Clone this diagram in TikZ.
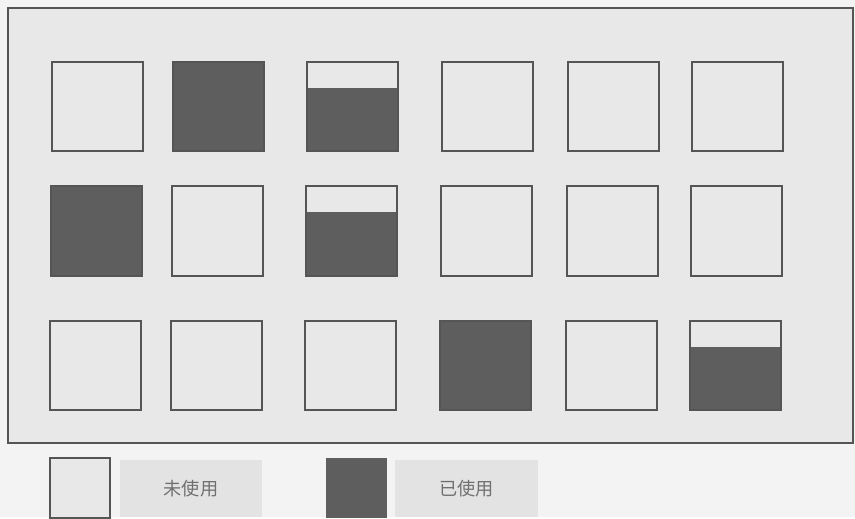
\documentclass[tikz,border=0pt]{standalone}
\usepackage{fontspec}
\newfontfamily\cjk{Noto Sans CJK SC}
\usetikzlibrary{positioning}

\definecolor{pagegray}{HTML}{F3F3F3}
\definecolor{panelgray}{HTML}{E8E8E8}
\definecolor{usedgray}{HTML}{5E5E5E}
\definecolor{linegray}{HTML}{555555}
\definecolor{labelgray}{HTML}{E3E3E3}
\definecolor{textgray}{HTML}{707070}

\tikzset{
  slot/.style={draw=linegray,line width=0.9pt},
  keylabel/.style={fill=labelgray,minimum width=4.26cm,minimum height=1.71cm,
    inner sep=0pt,text=textgray,font=\cjk\fontsize{15.5}{18}\selectfont}
}

\begin{document}
\begin{tikzpicture}[x=0.03cm,y=-0.03cm]
  \fill[pagegray] (0,0) rectangle (855,517);
  \draw[linegray,line width=0.9pt,fill=panelgray] (8,8) rectangle (853,443);

  % used memory
  \fill[usedgray] (173,62) rectangle (264,151);
  \fill[usedgray] (307,88) rectangle (398,151);
  \fill[usedgray] (51,186) rectangle (142,276);
  \fill[usedgray] (306,212) rectangle (397,276);
  \fill[usedgray] (440,321) rectangle (531,410);
  \fill[usedgray] (690,347) rectangle (781,410);

  % grid of blocks
  \foreach \x in {52,173,307,442,568,692}
    \draw[slot] (\x,62) rectangle ++(91,89);
  \foreach \x in {51,172,306,441,567,691}
    \draw[slot] (\x,186) rectangle ++(91,90);
  \foreach \x in {50,171,305,440,566,690}
    \draw[slot] (\x,321) rectangle ++(91,89);

  % legend
  \draw[slot,fill=panelgray] (50,458) rectangle (110,518);
  \node[keylabel] (unused) at (191,488.5) {未使用};
  \fill[usedgray] (326,458) rectangle (387,518);
  \node[keylabel] (used) at (466.5,488.5) {已使用};
  \useasboundingbox (0,0) rectangle (855,517);
\end{tikzpicture}
\end{document}
